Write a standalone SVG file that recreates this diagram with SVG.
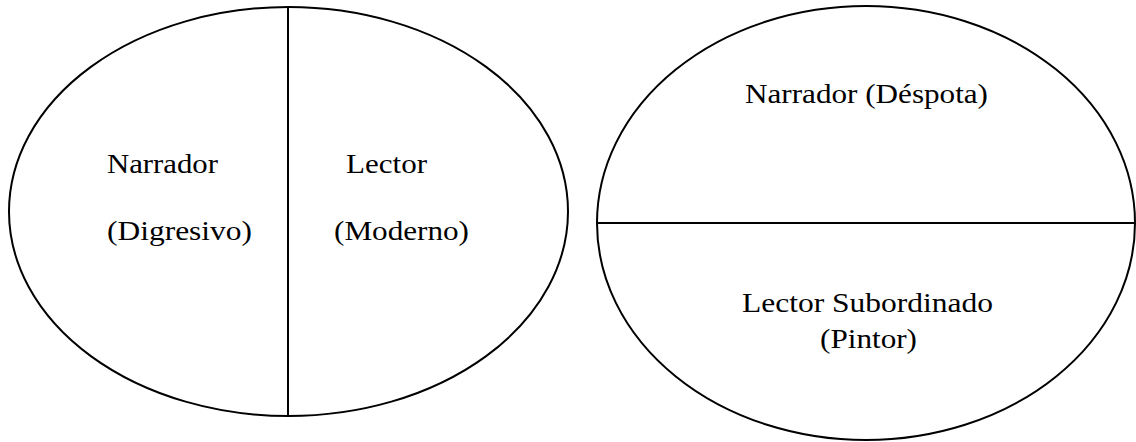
<svg xmlns="http://www.w3.org/2000/svg" width="1136" height="442" viewBox="0 0 1136 442">
<style>
.shape{fill:none;stroke:#000;stroke-width:2}
text{font-family:'Liberation Serif','Times New Roman',serif;font-size:28px;fill:#000}
</style>
<rect width="1136" height="442" fill="#fff"/>
<g id="left-ellipse">
<ellipse class="shape" cx="288.5" cy="211.5" rx="279.5" ry="204.5"/>
<text x="107" y="173" textLength="111" lengthAdjust="spacingAndGlyphs">Narrador</text>
<text x="107" y="240" textLength="145" lengthAdjust="spacingAndGlyphs">(Digresivo)</text>
<text x="346" y="173" textLength="81" lengthAdjust="spacingAndGlyphs">Lector</text>
<text x="334" y="240" textLength="135" lengthAdjust="spacingAndGlyphs">(Moderno)</text>
</g>
<g id="right-ellipse">
<ellipse class="shape" cx="866" cy="223" rx="269" ry="217"/>
<text x="745" y="103" textLength="243" lengthAdjust="spacingAndGlyphs">Narrador (Déspota)</text>
<text x="742" y="312" textLength="251" lengthAdjust="spacingAndGlyphs">Lector Subordinado</text>
<text x="820" y="348" textLength="97" lengthAdjust="spacingAndGlyphs">(Pintor)</text>
</g>
<g id="connectors">
<line class="shape" x1="288" y1="7" x2="288" y2="416"/>
<line class="shape" x1="597" y1="223" x2="1135" y2="223"/>
</g>
</svg>
